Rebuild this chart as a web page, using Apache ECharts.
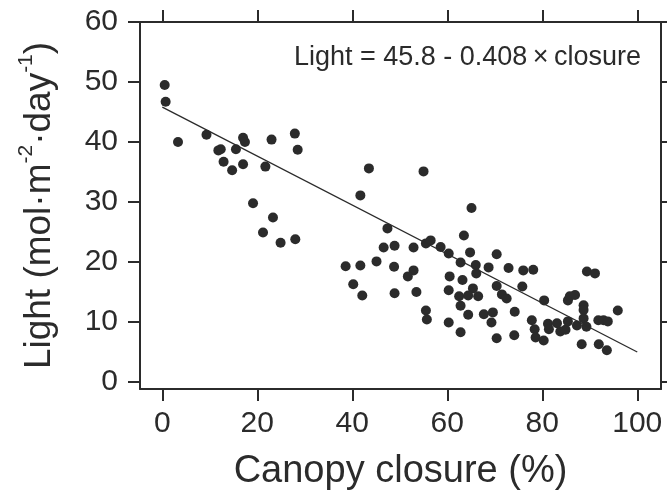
<!DOCTYPE html>
<html>
<head>
<meta charset="utf-8">
<script src="https://cdn.jsdelivr.net/npm/echarts@6/dist/echarts.min.js"></script>
<style>
  html, body { margin: 0; padding: 0; background: #fff; }
  #chart { width: 667px; height: 499px; }
</style>
</head>
<body>
<div id="chart"></div>
<script>
// canopy closure (%) and light (mol m-2 day-1)
var closure = [
  0.5, 0.7, 3.3, 9.3, 11.8, 12.3, 12.9, 14.7, 15.5, 17.0, 17.4, 17.0, 21.7, 23.0, 27.9, 28.5,
  19.1, 23.3, 21.2, 24.9, 28.0,
  43.5, 41.7, 47.4, 46.6, 48.9, 38.6, 41.7, 45.1, 48.8, 55.0, 65.1, 63.5, 55.5, 56.5, 58.6,
  60.3, 64.8, 70.4, 52.9, 52.9, 51.7, 60.5, 62.8, 66.0, 66.1, 68.7, 72.9, 76.0, 78.1, 89.4,
  91.1, 63.2, 40.2, 42.1, 48.9, 53.5, 55.5, 55.7, 60.3, 60.3, 65.4, 62.5, 64.4, 66.5, 62.8,
  64.4, 62.8, 67.7, 69.6, 69.3, 70.4, 70.4, 71.5, 72.5, 74.1, 74.2, 75.8, 77.8, 78.4, 78.6,
  80.3, 80.4, 81.2, 81.4, 83.1, 83.8, 84.9, 85.4, 85.4, 85.8, 86.9, 87.3, 88.7, 88.7, 88.7,
  89.3, 88.3, 91.9, 91.8, 92.9, 93.8, 93.6, 95.9
];
var light = [
  49.5, 46.7, 40.0, 41.2, 38.6, 38.8, 36.7, 35.3, 38.8, 40.7, 40.0, 36.3, 35.9, 40.4, 41.4, 38.7,
  29.8, 27.4, 24.9, 23.2, 23.8,
  35.6, 31.1, 25.6, 22.4, 22.7, 19.3, 19.4, 20.1, 19.2, 35.1, 29.0, 24.4, 23.1, 23.6, 22.5,
  21.4, 21.6, 21.3, 22.4, 18.6, 17.6, 17.6, 19.9, 19.5, 18.1, 19.1, 19.0, 18.6, 18.7, 18.4,
  18.1, 17.0, 16.3, 14.4, 14.8, 15.0, 11.9, 10.4, 9.9, 15.3, 15.6, 14.3, 14.4, 14.3, 12.7,
  11.2, 8.3, 11.3, 11.6, 9.9, 7.3, 16.0, 14.6, 13.9, 7.8, 11.7, 15.9, 10.3, 8.8, 7.4,
  6.9, 13.6, 9.7, 8.8, 9.8, 8.4, 8.7, 10.1, 13.6, 14.3, 14.5, 9.4, 12.8, 12.0, 10.6,
  9.2, 6.3, 6.3, 10.3, 10.3, 10.1, 5.3, 11.9
];
var xTicks = [0, 20, 40, 60, 80, 100];
var yTicks = [0, 10, 20, 30, 40, 50, 60];
var intercept = 45.8;
var slope = -0.408;
var fitRange = [0, 100];

var points = closure.map(function (c, i) { return [c, light[i]]; });
var fitLine = fitRange.map(function (c) { return [c, intercept + slope * c]; });

var ink = '#2b2b2b';
var fontFamily = '"Liberation Sans", Arial, sans-serif';

var chart = echarts.init(document.getElementById('chart'), null, { renderer: 'canvas' });

function xAxisOf(pos, showLabel) {
  return {
    type: 'value',
    position: pos,
    min: -4.7,
    max: 105,
    axisLine: { show: true, onZero: false, lineStyle: { color: ink, width: 2 } },
    axisTick: { show: true, length: 12, customValues: xTicks, lineStyle: { color: ink, width: 2 } },
    axisLabel: {
      show: showLabel, customValues: xTicks, margin: 20,
      color: ink, fontSize: 30, fontFamily: fontFamily
    },
    splitLine: { show: false }
  };
}
function yAxisOf(pos, showLabel) {
  return {
    type: 'value',
    position: pos,
    min: -1.17,
    max: 60,
    axisLine: { show: true, onZero: false, lineStyle: { color: ink, width: 2 } },
    axisTick: { show: true, length: 12, customValues: yTicks, lineStyle: { color: ink, width: 2 } },
    axisLabel: {
      show: showLabel, customValues: yTicks, margin: 22,
      color: ink, fontSize: 30, fontFamily: fontFamily
    },
    splitLine: { show: false }
  };
}

var xMain = xAxisOf('bottom', true);
xMain.name = 'Canopy closure (%)';
xMain.nameLocation = 'middle';
xMain.nameGap = 64;
xMain.nameTextStyle = { color: ink, fontSize: 38, fontFamily: fontFamily };

var yMain = yAxisOf('left', true);
yMain.name = '{n|Light (mol·m}{s|-2}{n|·day}{s|-1}{n|)}';
yMain.nameLocation = 'middle';
yMain.nameGap = 82;
yMain.nameTextStyle = {
  color: ink, fontFamily: fontFamily,
  rich: {
    n: { fontSize: 37, color: ink, fontFamily: fontFamily, verticalAlign: 'bottom', lineHeight: 42 },
    s: { fontSize: 21, color: ink, fontFamily: fontFamily, verticalAlign: 'top', lineHeight: 42 }
  }
};

var option = {
  animation: false,
  backgroundColor: '#fff',
  grid: { left: 140, top: 22, right: 6, bottom: 110, containLabel: false },
  xAxis: [xMain, xAxisOf('top', false)],
  yAxis: [yMain, yAxisOf('right', false)],
  graphic: [{
    type: 'text',
    right: 26,
    top: 44,
    style: {
      text: 'Light = 45.8 - 0.408\u2009×\u2009closure',
      fill: ink,
      fontSize: 27,
      fontFamily: fontFamily
    }
  }],
  series: [
    {
      type: 'scatter',
      data: points,
      symbol: 'circle',
      symbolSize: 10,
      itemStyle: { color: ink, opacity: 1 },
      silent: true
    },
    {
      type: 'line',
      data: fitLine,
      showSymbol: false,
      lineStyle: { color: ink, width: 1.3 },
      silent: true
    }
  ]
};
chart.setOption(option);
</script>
</body>
</html>
